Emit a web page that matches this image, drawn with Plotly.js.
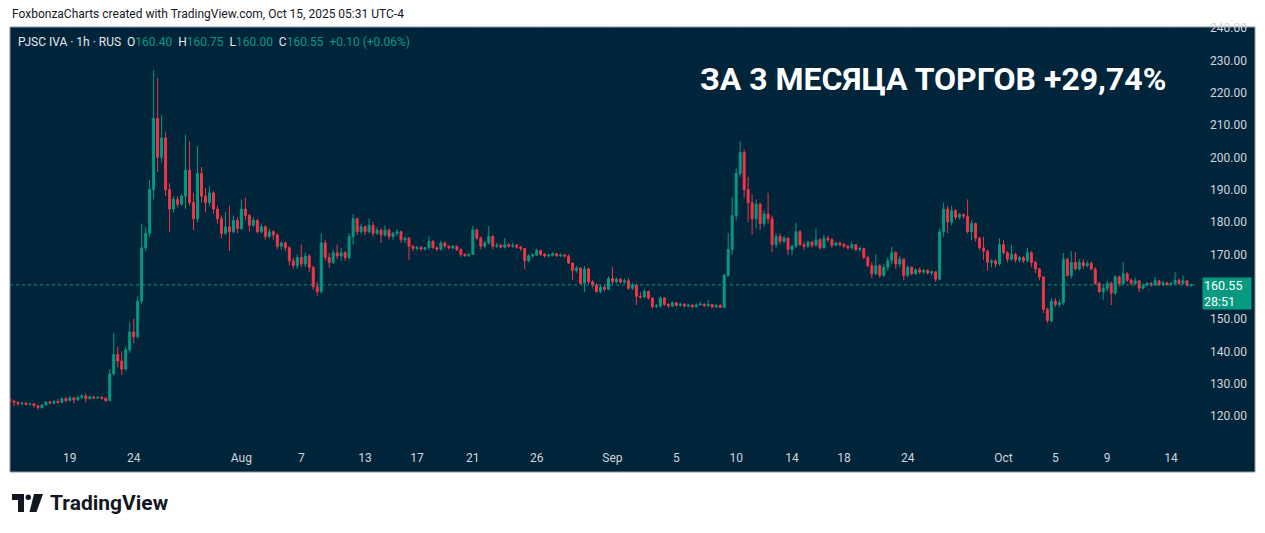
<!DOCTYPE html>
<html>
<head>
<meta charset="utf-8">
<script src="https://cdn.plot.ly/plotly-3.0.1.min.js"></script>
<style>html,body{margin:0;padding:0;background:#fff;}#chart{width:1265px;height:533px;}</style>
</head>
<body>
<div id="chart"></div>
<script>
// Hourly candles, PJSC IVA
const opens = [125.2,124.6,124.2,123.8,124.0,123.6,123.8,123.2,122.6,123.4,124.3,124.0,124.5,124.2,125.3,124.8,125.6,125.0,125.8,126.2,
125.4,125.9,125.6,125.8,125.5,124.8,133.0,139.0,137.0,134.5,140.5,146.0,144.5,155.5,172.0,176.5,190.0,212.0,200.0,206.0,
190.0,184.0,187.0,185.5,188.0,196.0,186.0,181.0,195.0,188.0,186.0,189.0,184.0,181.0,176.5,178.5,177.0,180.5,178.0,184.0,
182.0,179.0,180.5,177.0,178.5,175.5,177.0,176.0,172.5,173.5,172.0,168.0,166.5,169.0,167.0,169.5,166.0,160.0,158.5,173.5,
169.0,167.5,170.5,169.5,170.5,169.0,175.5,181.0,177.0,178.5,177.0,179.0,176.5,177.5,176.0,177.5,175.5,176.5,177.0,174.5,
175.0,172.5,171.8,172.2,171.6,172.0,174.0,172.0,171.6,173.5,172.5,172.0,172.5,171.5,170.0,169.6,170.0,177.5,175.0,172.5,
173.5,175.5,172.5,172.8,172.2,173.0,172.5,172.8,172.2,171.8,168.0,169.5,169.8,171.2,170.0,169.5,169.7,170.2,169.6,169.8,
169.5,167.3,165.0,165.8,161.0,165.5,161.5,160.5,158.5,159.8,159.2,162.5,161.5,162.3,161.4,161.8,159.5,160.5,157.0,156.8,
158.5,156.5,153.8,154.0,156.5,154.5,154.0,155.0,154.2,154.6,154.0,154.3,153.8,154.4,154.6,154.1,154.5,153.7,154.2,153.6,
163.5,171.5,182.0,195.0,201.5,190.0,186.0,181.0,185.5,179.5,182.5,181.0,173.0,175.5,174.0,175.0,171.5,172.5,177.0,173.0,
172.5,173.8,172.8,174.5,172.0,175.0,174.5,172.8,173.5,173.0,172.5,172.0,173.0,171.5,171.8,169.0,166.5,164.0,166.5,163.5,
166.0,168.0,170.5,167.0,168.5,163.5,166.0,164.0,165.2,164.5,165.0,164.2,164.6,162.3,177.0,184.0,180.0,183.5,181.5,182.3,
181.8,177.0,179.5,175.0,172.0,171.0,167.5,168.0,167.0,173.0,170.5,168.5,170.0,168.3,169.0,168.0,170.5,167.5,165.5,163.0,
153.0,149.5,155.5,154.5,155.0,168.5,163.5,167.5,165.5,167.5,166.5,167.2,165.5,161.0,158.5,159.5,161.0,158.0,163.0,161.0,
164.0,162.0,161.0,161.8,159.5,160.5,161.0,160.5,161.8,160.6,161.2,160.7,161.0,162.0,161.0,161.8,160.40];
const highs = [125.5,125.0,124.6,124.4,124.3,124.1,124.0,123.4,123.7,124.6,124.8,125.0,125.3,125.8,125.9,126.2,126.0,126.3,126.8,127.0,
126.3,126.2,126.1,126.0,125.8,134.5,145.7,141.5,140.0,141.5,149.0,150.0,157.0,179.5,178.5,193.0,227.0,224.5,213.0,208.0,
192.0,188.0,188.0,188.5,207.0,205.0,189.0,203.5,197.0,190.5,191.0,189.5,185.0,182.0,183.0,185.0,182.0,181.5,187.0,187.5,
182.5,181.5,181.0,179.5,179.0,178.0,177.5,176.5,174.0,174.0,172.5,169.0,170.0,173.0,170.5,170.0,166.5,161.5,176.5,174.5,
170.5,171.5,173.0,172.0,171.0,176.5,182.5,181.5,179.5,179.0,181.0,180.0,178.5,178.0,179.0,178.0,177.0,177.8,177.3,175.5,
175.3,172.8,172.6,172.5,172.3,175.5,174.5,172.5,174.2,174.0,172.8,172.9,172.7,171.8,170.3,170.3,178.8,178.0,175.5,174.0,
178.8,176.0,173.5,173.2,175.0,173.5,173.6,173.2,172.6,172.0,170.0,170.3,171.8,171.4,170.4,170.2,170.6,170.4,170.2,170.2,
170.0,167.5,166.4,166.0,166.4,165.8,162.0,161.0,160.5,160.5,163.2,166.0,162.8,162.7,162.5,162.7,161.2,160.8,158.3,159.2,
158.8,156.8,154.6,157.0,156.8,155.0,155.4,155.3,155.0,154.9,154.7,154.5,154.8,155.4,154.8,155.9,154.7,154.6,154.6,164.0,
176.6,187.7,196.5,205.0,202.5,194.0,188.5,187.0,186.0,183.5,189.0,182.0,176.5,176.5,175.8,175.3,173.0,179.7,177.5,174.0,
174.3,174.2,178.0,175.0,176.0,175.8,175.0,174.0,174.0,173.6,173.0,174.0,173.2,172.5,172.0,169.5,167.5,170.0,167.0,167.0,
169.0,172.3,171.0,169.5,168.8,166.5,166.3,165.8,166.0,165.5,165.4,165.0,164.8,178.0,186.0,185.0,185.0,184.0,182.8,182.6,
187.0,180.6,179.8,175.5,175.4,171.5,168.5,168.5,175.0,174.4,171.0,173.0,170.5,169.5,169.4,172.0,171.0,168.0,165.8,163.3,
153.5,156.5,156.5,156.0,170.4,169.0,171.0,170.7,168.5,168.5,168.0,167.8,166.0,161.5,160.5,161.8,161.5,163.6,163.5,167.6,
164.5,162.5,162.8,162.0,161.0,161.5,161.5,163.0,162.0,161.8,161.5,161.5,164.5,162.5,163.5,162.0,160.75];
const lows = [124.0,123.0,123.2,123.5,123.2,123.3,122.6,121.9,122.3,123.2,123.6,123.6,123.8,123.9,124.1,124.5,123.9,124.7,125.2,124.2,
125.0,125.2,125.3,125.1,124.3,124.6,132.5,135.0,132.7,134.0,139.5,142.5,144.0,154.5,171.0,175.5,187.0,195.5,198.5,188.0,
177.0,183.0,184.5,185.0,184.0,185.0,177.5,180.0,186.0,183.0,185.0,182.5,179.5,175.0,176.0,171.0,176.5,176.5,177.5,180.5,
177.0,178.5,176.5,176.5,174.5,175.0,174.5,171.5,171.5,171.0,166.5,165.5,165.5,166.0,166.0,164.5,159.0,157.2,158.0,168.0,
165.8,167.0,168.5,168.0,168.0,168.5,173.0,176.0,176.5,176.0,176.5,175.5,176.0,173.5,175.5,174.5,174.5,175.5,173.5,173.5,
168.2,171.0,171.2,171.0,171.2,171.5,171.8,171.0,171.2,172.0,171.5,171.6,171.0,169.2,169.2,169.2,169.8,174.5,171.5,171.8,
173.0,171.5,172.0,171.8,171.8,172.0,172.0,171.8,171.0,165.4,167.5,169.0,169.5,169.4,169.0,169.0,169.3,169.2,169.2,169.0,
167.0,162.0,164.3,160.5,158.3,160.8,159.8,158.0,158.0,158.5,159.0,160.8,161.0,161.0,161.0,159.0,159.0,154.3,156.3,156.5,
156.0,153.2,153.4,153.6,154.0,153.4,153.6,153.8,153.8,153.6,153.6,153.4,153.5,154.0,153.7,153.8,153.4,153.5,153.3,153.4,
163.0,170.0,180.5,194.0,187.5,180.0,176.0,178.0,177.5,178.5,179.5,170.7,172.0,173.0,173.5,169.8,169.8,172.0,172.5,171.3,
172.0,172.0,172.5,171.5,171.8,173.8,172.0,172.5,172.4,172.0,171.5,171.4,171.0,170.8,168.5,166.0,162.7,163.5,162.7,163.0,
165.0,167.0,165.5,166.0,162.0,163.0,163.5,163.6,164.0,163.8,163.8,163.5,161.5,162.0,175.4,176.6,179.0,180.6,180.8,181.0,
176.5,174.4,174.0,171.3,168.2,165.0,166.0,166.0,166.5,170.0,167.5,168.0,167.5,167.5,167.3,167.5,166.0,164.2,162.0,151.8,
148.8,149.0,153.7,153.7,154.3,163.0,162.5,165.0,165.0,165.5,166.0,165.0,160.5,158.0,156.0,158.5,154.3,157.5,160.0,160.5,
161.5,160.3,160.5,158.3,159.2,160.0,160.0,160.2,160.2,160.3,160.2,160.3,160.8,160.5,160.6,160.0,160.00];
const closes = [124.6,124.2,123.8,124.0,123.6,123.8,123.2,122.6,123.4,124.3,124.0,124.5,124.2,125.3,124.8,125.6,125.0,125.8,126.2,125.4,
125.9,125.6,125.8,125.5,124.8,133.0,139.0,137.0,134.5,140.5,146.0,144.5,155.5,172.0,176.5,190.0,212.0,200.0,206.0,190.0,
184.0,187.0,185.5,188.0,196.0,186.0,181.0,195.0,188.0,186.0,189.0,184.0,181.0,176.5,178.5,177.0,180.5,178.0,184.0,182.0,
179.0,180.5,177.0,178.5,175.5,177.0,176.0,172.5,173.5,172.0,168.0,166.5,169.0,167.0,169.5,166.0,160.0,158.5,173.5,169.0,
167.5,170.5,169.5,170.5,169.0,175.5,181.0,177.0,178.5,177.0,179.0,176.5,177.5,176.0,177.5,175.5,176.5,177.0,174.5,175.0,
172.5,171.8,172.2,171.6,172.0,174.0,172.0,171.6,173.5,172.5,172.0,172.5,171.5,170.0,169.6,170.0,177.5,175.0,172.5,173.5,
175.5,172.5,172.8,172.2,173.0,172.5,172.8,172.2,171.8,168.0,169.5,169.8,171.2,170.0,169.5,169.7,170.2,169.6,169.8,169.5,
167.3,165.0,165.8,161.0,165.5,161.5,160.5,158.5,159.8,159.2,162.5,161.5,162.3,161.4,161.8,159.5,160.5,157.0,156.8,158.5,
156.5,153.8,154.0,156.5,154.5,154.0,155.0,154.2,154.6,154.0,154.3,153.8,154.4,154.6,154.1,154.5,153.7,154.2,153.6,163.5,
171.5,182.0,195.0,201.5,190.0,186.0,181.0,185.5,179.5,182.5,181.0,173.0,175.5,174.0,175.0,171.5,172.5,177.0,173.0,172.5,
173.8,172.8,174.5,172.0,175.0,174.5,172.8,173.5,173.0,172.5,172.0,173.0,171.5,171.8,169.0,166.5,164.0,166.5,163.5,166.0,
168.0,170.5,167.0,168.5,163.5,166.0,164.0,165.2,164.5,165.0,164.2,164.6,162.3,177.0,184.0,180.0,183.5,181.5,182.3,181.8,
177.0,179.5,175.0,172.0,171.0,167.5,168.0,167.0,173.0,170.5,168.5,170.0,168.3,169.0,168.0,170.5,167.5,165.5,163.0,153.0,
149.5,155.5,154.5,155.0,168.5,163.5,167.5,165.5,167.5,166.5,167.2,165.5,161.0,158.5,159.5,161.0,158.0,163.0,161.0,164.0,
162.0,161.0,161.8,159.5,160.5,161.0,160.5,161.8,160.6,161.2,160.7,161.0,162.0,161.0,161.8,160.45,160.55];

// Day labels on the time scale and the candle where each starts
const tickText = ['19','24','Aug','7','13','17','21','26','Sep','5','10','14','18','24','Oct','5','9','14'];
const tickIdx  = [15,31,58,73,89,102,116,132,151,167,182,196,209,225,249,262,275,291];
// Price-scale labels shown (160.00 is hidden behind the last-price tag)
const priceTicks = [120,130,140,150,170,180,190,200,210,220,230,240];

const symbolText = 'PJSC IVA · 1h · RUS';
const timerText = '28:51';
const headerText = 'FoxbonzaCharts created with TradingView.com, Oct 15, 2025 05:31 UTC-4';
const titleText = 'ЗА 3 МЕСЯЦА ТОРГОВ +29,74%';

// ---- drawing ----
const UP = '#089981', DOWN = '#f23645', PANEL = '#00243a';
const W = 1265, H = 533, L = 10, R = 70, T = 27, B = 93;
const PW = W - L - R, PH = H - T - B;
const fx = px => (px - L) / PW;
const fy = py => (H - B - py) / PH;

const n = closes.length;
const xs = closes.map((_, i) => i);
const last = n - 1;
const lastClose = closes[last];
const chg = closes[last] - closes[last - 1];
const pct = chg / closes[last - 1] * 100;
const sgn = v => (v >= 0 ? '+' : '') + v.toFixed(2);
const valColor = chg >= 0 ? UP : DOWN;

const trace = {
  type: 'candlestick', x: xs, open: opens, high: highs, low: lows, close: closes,
  increasing: {line: {color: UP, width: 1}, fillcolor: UP},
  decreasing: {line: {color: DOWN, width: 1}, fillcolor: DOWN},
  whiskerwidth: 0, hoverinfo: 'skip', showlegend: false
};

const lab = '#d1d4dc';
const legendHtml =
  `<span style="color:#e6e8ee">${symbolText}</span>  ` +
  `<span style="color:#e6e8ee">O</span><span style="color:${valColor}">${opens[last].toFixed(2)}</span>  ` +
  `<span style="color:#e6e8ee">H</span><span style="color:${valColor}">${highs[last].toFixed(2)}</span>  ` +
  `<span style="color:#e6e8ee">L</span><span style="color:${valColor}">${lows[last].toFixed(2)}</span>  ` +
  `<span style="color:#e6e8ee">C</span><span style="color:${valColor}">${lastClose.toFixed(2)}</span>  ` +
  `<span style="color:${valColor}">${sgn(chg)} (${sgn(pct)}%)</span>`;

const logoPath = (pts) => 'M' + pts.map(p => fx(p[0]) + ',' + fy(p[1])).join(' L') + ' Z';

const layout = {
  width: W, height: H,
  margin: {l: L, r: R, t: T, b: B, pad: 0},
  paper_bgcolor: '#ffffff', plot_bgcolor: 'rgba(0,0,0,0)',
  font: {family: 'Roboto, "Liberation Sans", sans-serif', size: 12, color: lab},
  showlegend: false,
  xaxis: {
    range: [0, n], tickvals: tickIdx, ticktext: tickText, ticks: '',
    showgrid: true, gridcolor: 'rgba(255,255,255,0.015)', zeroline: false, showline: false,
    tickfont: {size: 12, color: lab}, ticklabelstandoff: 9,
    rangeslider: {visible: false}, fixedrange: true
  },
  yaxis: {
    side: 'right', range: [112.58, 240.31], tickvals: priceTicks, tickformat: '.2f', ticks: '',
    showgrid: true, gridcolor: 'rgba(255,255,255,0.015)', zeroline: false, showline: false,
    tickfont: {size: 12, color: lab}, ticklabelstandoff: 14, fixedrange: true
  },
  shapes: [
    {type: 'rect', xref: 'paper', yref: 'paper', x0: 0, x1: fx(1255), y0: fy(472), y1: 1,
     fillcolor: PANEL, line: {color: '#8a96a3', width: 1}, layer: 'below'},
    {type: 'line', xref: 'paper', yref: 'y', x0: 0, x1: 1, y0: lastClose, y1: lastClose,
     line: {color: UP, width: 1, dash: 'dot'}},
    // TradingView logo marks
    {type: 'path', xref: 'paper', yref: 'paper', path: logoPath([[12,494],[24,494],[24,512],[18,512],[18,500],[12,500]]),
     fillcolor: '#131722', line: {width: 0}},
    {type: 'circle', xref: 'paper', yref: 'paper', x0: fx(25.5), x1: fx(31), y0: fy(500), y1: fy(494.5),
     fillcolor: '#131722', line: {width: 0}},
    {type: 'path', xref: 'paper', yref: 'paper', path: logoPath([[34,494],[43,494],[36.5,512],[29.5,512]]),
     fillcolor: '#131722', line: {width: 0}}
  ],
  annotations: [
    {xref: 'paper', yref: 'paper', x: 0, y: 1, xanchor: 'left', yanchor: 'middle', yshift: 13, showarrow: false,
     text: headerText, font: {size: 12, color: '#131722'}},
    {xref: 'paper', yref: 'paper', x: 0, y: 1, xanchor: 'left', yanchor: 'middle', xshift: 6, yshift: -15, showarrow: false,
     text: legendHtml, font: {size: 12, color: lab}},
    {xref: 'paper', yref: 'paper', x: 1, y: 1, xanchor: 'right', yanchor: 'middle', xshift: -27, yshift: -52, showarrow: false,
     text: '<b>' + titleText + '</b>', font: {size: 32, color: '#ffffff'}},
    {xref: 'paper', yref: 'y', x: 1, y: lastClose, xanchor: 'left', yanchor: 'top', xshift: 7, yshift: 8, showarrow: false,
     text: lastClose.toFixed(2) + '<br>' + timerText, bgcolor: UP, borderpad: 1, width: 46, height: 29, align: 'left',
     font: {size: 12.5, color: '#ffffff'}},
    {xref: 'paper', yref: 'paper', x: 0, y: 0, xanchor: 'left', yanchor: 'middle', xshift: 38, yshift: -63, showarrow: false,
     text: '<b>TradingView</b>', font: {size: 21, color: '#131722'}}
  ]
};

Plotly.newPlot('chart', [trace], layout, {staticPlot: true, displayModeBar: false});
</script>
</body>
</html>
